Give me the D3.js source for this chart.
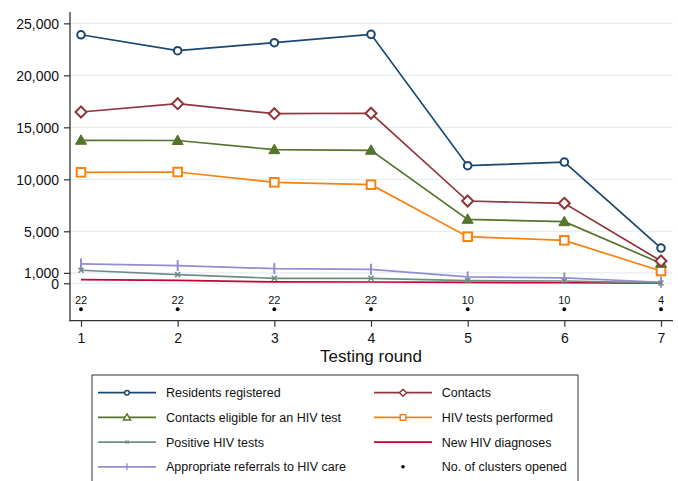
<!DOCTYPE html>
<html>
<head>
<meta charset="utf-8">
<script src="https://cdn.jsdelivr.net/npm/d3@7"></script>
<style>
  body { margin: 0; background: #fff; }
  text { font-family: "Liberation Sans", Arial, sans-serif; fill: #111; }
</style>
</head>
<body>
<div id="chart"></div>
<script>
// testing rounds
var rounds = [1, 2, 3, 4, 5, 6, 7];

// series values
var residents  = [23900, 22370, 23140, 23940, 11310, 11660, 3390];
var contacts   = [16470, 17270, 16310, 16350, 7910, 7690, 2140];
var eligible   = [13750, 13730, 12850, 12790, 6150, 5920, 1920];
var tests      = [10670, 10700, 9710, 9480, 4480, 4130, 1180];
var positive   = [1250, 830, 480, 480, 250, 220, 30];
var newDiag    = [350, 270, 130, 120, 80, 50, 10];
var referrals  = [1860, 1700, 1410, 1340, 610, 510, 100];
var clusters   = [22, 22, 22, 22, 10, 10, 4];

var yTicks = [0, 1000, 5000, 10000, 15000, 20000, 25000];

var series = [
	{name: "Residents registered", values: residents, color: "#1a476f", marker: "circle"},
	{name: "Contacts", values: contacts, color: "#90353b", marker: "diamond"},
	{name: "Contacts eligible for an HIV test", values: eligible, color: "#55752f", marker: "triangle"},
	{name: "HIV tests performed", values: tests, color: "#f7820f", marker: "square"},
	{name: "Positive HIV tests", values: positive, color: "#6e8e84", marker: "x"},
	{name: "New HIV diagnoses", values: newDiag, color: "#c10534", marker: "none"},
	{name: "Appropriate referrals to HIV care", values: referrals, color: "#938dd2", marker: "bar"}
];

var width = 678, height = 481;

var svg = d3.select("#chart")
	.append("svg")
	  .attr("width", width)
	  .attr("height", height);

svg.append("rect").attr("width", width).attr("height", height).attr("fill", "#fff");

var x = d3.scaleLinear().domain([1, 7]).range([81, 661]);
var y = d3.scaleLinear().domain([-3600, 26100]).range([320.7, 11.9]);

// gridlines
svg.append("g")
	.selectAll("line")
	.data(yTicks)
  .enter().append("line")
	.attr("x1", 70).attr("x2", 673)
	.attr("y1", d => y(d)).attr("y2", d => y(d))
	.attr("stroke", "#e6eef2")
	.attr("stroke-width", 1.2);

// y axis
var yAxis = svg.append("g")
	.attr("transform", "translate(70,0)")
	.call(d3.axisLeft(y).tickValues(yTicks).tickSize(6).tickPadding(5)
		.tickFormat(d3.format(",")));
yAxis.select(".domain").remove();
yAxis.append("line").attr("x1", 0).attr("x2", 0).attr("y1", 11.9).attr("y2", 321.2)
	.attr("stroke", "#333").attr("stroke-width", 1.3);
yAxis.selectAll(".tick line").attr("stroke", "#333").attr("stroke-width", 1.2);
yAxis.selectAll(".tick text").style("font-size", "14px").attr("dy", "0.36em");

// x axis
var xAxis = svg.append("g")
	.attr("transform", "translate(0,320.7)")
	.call(d3.axisBottom(x).tickValues(rounds).tickSize(6).tickPadding(6)
		.tickFormat(d3.format("d")));
xAxis.select(".domain").remove();
xAxis.append("line").attr("x1", 69.4).attr("x2", 673).attr("y1", 0).attr("y2", 0)
	.attr("stroke", "#333").attr("stroke-width", 1.3);
xAxis.selectAll(".tick line").attr("stroke", "#333").attr("stroke-width", 1.2);
xAxis.selectAll(".tick text").style("font-size", "14px");

svg.append("text")
	.attr("x", 371).attr("y", 362)
	.attr("text-anchor", "middle")
	.style("font-size", "17px")
	.text("Testing round");

function drawMarker(g, type, color) {
	if (type == "circle") {
		g.append("circle").attr("r", 3.8).attr("fill", "#fff")
			.attr("stroke", color).attr("stroke-width", 2);
	} else if (type == "diamond") {
		g.append("path").attr("d", "M0,-5.5L5.5,0L0,5.5L-5.5,0Z").attr("fill", "#fff")
			.attr("stroke", color).attr("stroke-width", 2);
	} else if (type == "triangle") {
		g.append("path").attr("d", "M0,-5.5L5.5,4L-5.5,4Z").attr("fill", color)
			.attr("stroke", color).attr("stroke-width", 1);
	} else if (type == "square") {
		g.append("rect").attr("x", -4.3).attr("y", -4.3).attr("width", 8.6).attr("height", 8.6)
			.attr("fill", "#fff").attr("stroke", color).attr("stroke-width", 2);
	} else if (type == "x") {
		g.append("path").attr("d", "M-2.5,-2.5L2.5,2.5M-2.5,2.5L2.5,-2.5")
			.attr("stroke", color).attr("stroke-width", 1.6);
	} else if (type == "bar") {
		g.append("path").attr("d", "M0,-5.5L0,5.5")
			.attr("stroke", color).attr("stroke-width", 2);
	}
}

var line = d3.line()
	.x((d, i) => x(rounds[i]))
	.y(d => y(d));

// draw from the back so the top series sit over lower ones
series.slice().reverse().forEach(function(s) {
	var g = svg.append("g");
	g.append("path")
		.attr("d", line(s.values))
		.attr("fill", "none")
		.attr("stroke", s.color)
		.attr("stroke-width", 1.7);
	g.selectAll(".mk")
		.data(s.values)
	  .enter().append("g")
		.attr("transform", (d, i) => "translate(" + x(rounds[i]) + "," + y(d) + ")")
		.each(function() { drawMarker(d3.select(this), s.marker, s.color); });
});

// number of clusters opened
var cl = svg.append("g");
cl.selectAll("circle")
	.data(clusters)
  .enter().append("circle")
	.attr("cx", (d, i) => x(rounds[i]))
	.attr("cy", y(-2500))
	.attr("r", 1.9)
	.attr("fill", "#000");
cl.selectAll("text")
	.data(clusters)
  .enter().append("text")
	.attr("x", (d, i) => x(rounds[i]))
	.attr("y", y(-2500) - 5)
	.attr("text-anchor", "middle")
	.style("font-size", "11px")
	.text(d => d);

// legend
var legend = svg.append("g");
legend.append("rect")
	.attr("x", 92).attr("y", 375).attr("width", 486).attr("height", 110)
	.attr("fill", "#fff").attr("stroke", "#333").attr("stroke-width", 1);

var legendItems = series.map(s => ({name: s.name, color: s.color, marker: s.marker, isLine: true}));
legendItems.push({name: "No. of clusters opened", color: "#000", marker: "dot", isLine: false});

legendItems.forEach(function(d, i) {
	var col = i % 2, row = Math.floor(i / 2);
	var lx = col == 0 ? 98 : 374;
	var ly = 392.7 + row * 24.7;
	var g = legend.append("g");
	if (d.isLine) {
		g.append("line").attr("x1", lx).attr("x2", lx + 58).attr("y1", ly).attr("y2", ly)
			.attr("stroke", d.color).attr("stroke-width", 1.7);
		var m = g.append("g").attr("transform", "translate(" + (lx + 29) + "," + ly + ")");
		if (d.marker == "circle") {
			m.append("circle").attr("r", 2.3).attr("fill", "#fff").attr("stroke", d.color).attr("stroke-width", 1.5);
		} else if (d.marker == "diamond") {
			m.append("path").attr("d", "M0,-3.5L3.5,0L0,3.5L-3.5,0Z").attr("fill", "#fff").attr("stroke", d.color).attr("stroke-width", 1.5);
		} else if (d.marker == "triangle") {
			m.append("path").attr("d", "M0,-3.5L3.5,2.5L-3.5,2.5Z").attr("fill", "#fff").attr("stroke", d.color).attr("stroke-width", 1.5);
		} else if (d.marker == "square") {
			m.append("rect").attr("x", -2.8).attr("y", -2.8).attr("width", 5.6).attr("height", 5.6).attr("fill", "#fff").attr("stroke", d.color).attr("stroke-width", 1.5);
		} else if (d.marker == "x") {
			m.append("path").attr("d", "M-1.6,-1.6L1.6,1.6M-1.6,1.6L1.6,-1.6").attr("stroke", d.color).attr("stroke-width", 1.2);
		} else if (d.marker == "bar") {
			m.append("path").attr("d", "M0,-3.5L0,3.5").attr("stroke", d.color).attr("stroke-width", 1.3);
		}
	} else {
		g.append("circle").attr("cx", lx + 29).attr("cy", ly).attr("r", 1.8).attr("fill", "#000");
	}
	g.append("text")
		.attr("x", col == 0 ? 166 : 441.7)
		.attr("y", ly)
		.attr("dy", "0.36em")
		.style("font-size", "12.5px")
		.text(d.name);
});
</script>
</body>
</html>
